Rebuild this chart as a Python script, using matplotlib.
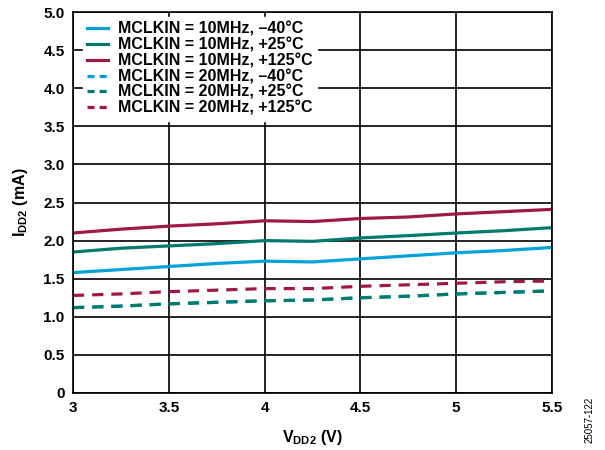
import numpy as np
import matplotlib
matplotlib.use("Agg")
import matplotlib.pyplot as plt

plt.rcParams['font.family'] = ['Liberation Sans', 'DejaVu Sans']
plt.rcParams['font.weight'] = 'bold'
plt.rcParams['axes.labelweight'] = 'bold'
plt.rcParams['mathtext.fontset'] = 'custom'
plt.rcParams['mathtext.rm'] = 'Liberation Sans:bold'
plt.rcParams['mathtext.it'] = 'Liberation Sans:bold'
plt.rcParams['mathtext.bf'] = 'Liberation Sans:bold'
plt.rcParams['mathtext.default'] = 'rm'

# supply voltage (V)
vdd2 = [3.0, 3.25, 3.5, 3.75, 4.0, 4.25, 4.5, 4.75, 5.0, 5.25, 5.5]

# IDD2 (mA), MCLKIN = 10MHz
i10_m40 = [1.58, 1.62, 1.66, 1.70, 1.73, 1.72, 1.76, 1.80, 1.84, 1.87, 1.91]
i10_p25 = [1.85, 1.90, 1.93, 1.96, 2.00, 1.99, 2.035, 2.065, 2.10, 2.13, 2.17]
i10_p125 = [2.10, 2.15, 2.19, 2.22, 2.26, 2.25, 2.29, 2.31, 2.35, 2.38, 2.41]

# IDD2 (mA), MCLKIN = 20MHz
i20_m40 = [1.12, 1.14, 1.17, 1.19, 1.21, 1.22, 1.25, 1.27, 1.30, 1.32, 1.34]
i20_p25 = [1.12, 1.14, 1.17, 1.19, 1.21, 1.22, 1.25, 1.27, 1.30, 1.32, 1.34]
i20_p125 = [1.28, 1.30, 1.33, 1.35, 1.37, 1.37, 1.40, 1.42, 1.44, 1.46, 1.47]

labels = ["MCLKIN = 10MHz, \u201340\u00b0C", "MCLKIN = 10MHz, +25\u00b0C",
          "MCLKIN = 10MHz, +125\u00b0C", "MCLKIN = 20MHz, \u201340\u00b0C",
          "MCLKIN = 20MHz, +25\u00b0C", "MCLKIN = 20MHz, +125\u00b0C"]

blue = "#00a0d8"
green = "#007a6c"
red = "#a01848"

fig = plt.figure(figsize=(6.05, 4.5), dpi=100)
ax = fig.add_axes([0.1207, 0.1267, 0.7917, 0.8466])

lw = 2.3
dash = (0, (3.5, 2.5))
ax.plot(vdd2, i10_m40, color=blue, lw=lw, label=labels[0])
ax.plot(vdd2, i10_p25, color=green, lw=lw, label=labels[1])
ax.plot(vdd2, i10_p125, color=red, lw=lw, label=labels[2])
ax.plot(vdd2, i20_m40, color=blue, lw=lw, ls=dash, label=labels[3])
ax.plot(vdd2, i20_p25, color=green, lw=lw, ls=dash, label=labels[4])
ax.plot(vdd2, i20_p125, color=red, lw=lw, ls=dash, label=labels[5])

ax.set_xlim(3, 5.5)
ax.set_ylim(0, 5)
ax.set_xticks([3, 3.5, 4, 4.5, 5, 5.5])
ax.set_xticklabels(["3", "3.5", "4", "4.5", "5", "5.5"])
ax.set_yticks(np.arange(0, 5.01, 0.5))
ax.set_yticklabels(["0"] + ["%.1f" % v for v in np.arange(0.5, 5.01, 0.5)])
ax.tick_params(length=0, labelsize=11, pad=6)
ax.grid(True, color="black", lw=1.2)
for s in ax.spines.values():
    s.set_linewidth(1.2)

ax.set_xlabel("V$_{DD2}$ (V)", fontsize=11.5, labelpad=9)
ax.set_ylabel("I$_{DD2}$ (mA)", fontsize=11.5, labelpad=10)

leg = ax.legend(loc="upper left", bbox_to_anchor=(0.015, 0.994), fontsize=11.5,
                frameon=True, handlelength=1.3, labelspacing=0.05, borderpad=0.3,
                borderaxespad=0.15, handletextpad=0.6, fancybox=False)
leg.get_frame().set_edgecolor("white")
leg.get_frame().set_alpha(1)
for h in leg.get_lines()[3:]:
    h.set_linestyle((0, (2.2, 1.6)))

fig.text(0.975, 0.067, "25057-122", rotation=90, fontsize=7, fontweight="normal",
         ha="center", va="center")

fig.savefig("out.png", dpi=100)
